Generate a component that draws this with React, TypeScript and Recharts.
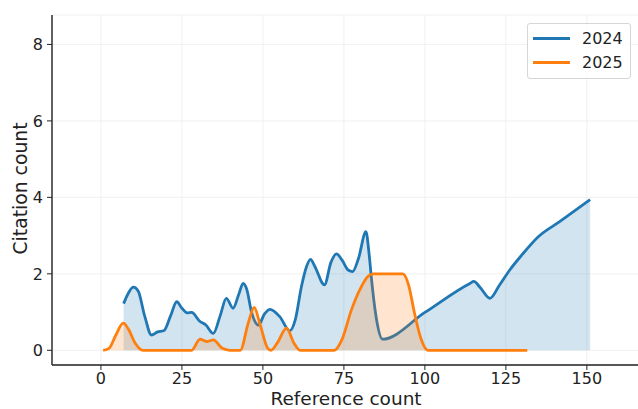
import React from "react";
import {
  ComposedChart,
  Area,
  XAxis,
  YAxis,
  CartesianGrid,
  Legend,
  Label,
} from "recharts";

// 2024 curve (reference count -> citation count)
const refs2024 = [
  7, 8.5, 10, 11.5, 13.5, 15.6, 17.5, 19.5, 21.5, 23.4, 25, 26.6, 28, 30.5, 32.4, 34.7,
  36.8, 38.7, 40.8, 42.5, 43.9, 45, 46.5, 48.6, 50.5, 52.2, 55.2, 58.3, 60, 61.9, 63.5,
  64.7, 66, 69, 71, 72.7, 74.5, 76.3, 77.7, 79.5, 81.8, 82.8, 83.5, 85.1, 86.9, 100,
  113.9, 115.1, 117, 120.1, 123, 126.2, 130, 135, 141.7, 151,
];
const cites2024 = [
  1.22, 1.5, 1.65, 1.55, 0.9, 0.4, 0.48, 0.52, 0.9, 1.27, 1.1, 0.98, 0.99, 0.76, 0.66, 0.44,
  0.9, 1.36, 1.1, 1.45, 1.75, 1.6, 1.0, 0.66, 0.95, 1.07, 0.88, 0.51, 0.8, 1.67, 2.2,
  2.38, 2.2, 1.71, 2.3, 2.52, 2.35, 2.1, 2.06, 2.4, 3.1, 2.5, 1.88, 0.79, 0.29, 0.99,
  1.75, 1.8, 1.65, 1.36, 1.7, 2.1, 2.5, 2.97, 3.37, 3.94,
];

// 2025 curve
const refs2025 = [
  0.7, 2.5, 4.5, 6.9, 8.5, 10.5, 13, 28, 30.6, 32.6, 34.7, 37.5, 39.8, 43, 45.5, 47.3,
  49.2, 51.5, 52.5, 54.5, 57.3, 59.5, 61.5, 72, 74.5, 77.3, 80, 82.4, 84, 93.2, 95, 96.8,
  98.8, 100.9, 131.6,
];
const cites2025 = [
  0, 0.05, 0.38, 0.71, 0.55, 0.2, 0, 0, 0.29, 0.23, 0.27, 0.05, 0, 0, 0.72, 1.12,
  0.65, 0.05, 0, 0.2, 0.58, 0.2, 0, 0, 0.3, 1.05, 1.6, 1.93, 2.0, 2.0, 1.7, 0.97,
  0.3, 0, 0,
];

const xTicks = [0, 25, 50, 75, 100, 125, 150];
const yTicks = [0, 2, 4, 6, 8];

const BLUE = "#1f77b4";
const ORANGE = "#ff7f0e";
const FONT = "DejaVu Sans, sans-serif";

const series = [
  { key: "y2024", name: "2024", color: BLUE },
  { key: "y2025", name: "2025", color: ORANGE },
];

// merge both curves into one table on the numeric x column
const byX = new Map<number, any>();
refs2024.forEach((x, i) => byX.set(x, { ...(byX.get(x) || { x }), y2024: cites2024[i] }));
refs2025.forEach((x, i) => byX.set(x, { ...(byX.get(x) || { x }), y2025: cites2025[i] }));
const data = Array.from(byX.values()).sort((a, b) => a.x - b.x);

const renderLegend = () => (
  <div
    style={{
      border: "1px solid #d6d6d6",
      borderRadius: 3,
      background: "rgba(255,255,255,0.8)",
      padding: "3px 6px 4px 5px",
      fontFamily: FONT,
      boxSizing: "border-box",
      width: 104,
    }}
  >
    {series.map((s) => (
      <div key={s.key} style={{ display: "flex", alignItems: "center", height: 23.5 }}>
        <span style={{ width: 37, borderTop: `3px solid ${s.color}`, marginRight: 12 }} />
        <span style={{ fontSize: 16, color: "#222" }}>{s.name}</span>
      </div>
    ))}
  </div>
);

export default function App() {
  const tick = { fill: "#222", fontSize: 16, fontFamily: FONT };
  return (
    <div style={{ position: "relative", width: 638, height: 409, overflow: "hidden", background: "#fff" }}>
      <style>{"body{margin:0}"}</style>
      <ComposedChart
        width={640}
        height={409}
        data={data}
        margin={{ top: 15, right: 0, bottom: 0, left: 0 }}
      >
        <CartesianGrid stroke="#ececec" strokeWidth={0.8} />
        <XAxis
          dataKey="x"
          type="number"
          domain={[-15.1, 166.4]}
          ticks={xTicks}
          allowDataOverflow
          height={44}
          tickSize={5}
          tickMargin={3}
          tick={tick}
          axisLine={{ stroke: "#222", strokeWidth: 1.4 }}
          tickLine={{ stroke: "#222" }}
        >
          <Label
            content={() => (
              <text x={346} y={404.5} textAnchor="middle" fill="#222" fontSize={18.5} fontFamily={FONT}>
                Reference count
              </text>
            )}
          />
        </XAxis>
        <XAxis
          xAxisId="top"
          orientation="top"
          dataKey="x"
          type="number"
          domain={[-15.1, 166.4]}
          height={0}
          tick={false}
          tickLine={false}
          axisLine={{ stroke: "#222", strokeWidth: 1.4 }}
        />
        <YAxis
          type="number"
          domain={[-0.385, 8.77]}
          ticks={yTicks}
          allowDataOverflow
          width={52}
          tickSize={5}
          tickMargin={4}
          tick={tick}
          axisLine={{ stroke: "#222", strokeWidth: 1.4 }}
          tickLine={{ stroke: "#222" }}
        >
          <Label
            content={() => (
              <text
                x={26.5}
                y={188.5}
                transform="rotate(-90 26.5 188.5)"
                textAnchor="middle"
                fill="#222"
                fontSize={18.8}
                fontFamily={FONT}
              >
                Citation count
              </text>
            )}
          />
        </YAxis>
        <Legend
          layout="vertical"
          align="center"
          verticalAlign="middle"
          content={renderLegend}
          wrapperStyle={{ top: 23, left: 527, width: 104 }}
        />
        {series.map((s) => (
          <Area
            key={s.key}
            name={s.name}
            dataKey={s.key}
            type="monotone"
            connectNulls
            baseValue={0}
            stroke={s.color}
            strokeWidth={2.8}
            fill={s.color}
            fillOpacity={0.2}
            dot={false}
            activeDot={false}
            isAnimationActive={false}
          />
        ))}
      </ComposedChart>
    </div>
  );
}
